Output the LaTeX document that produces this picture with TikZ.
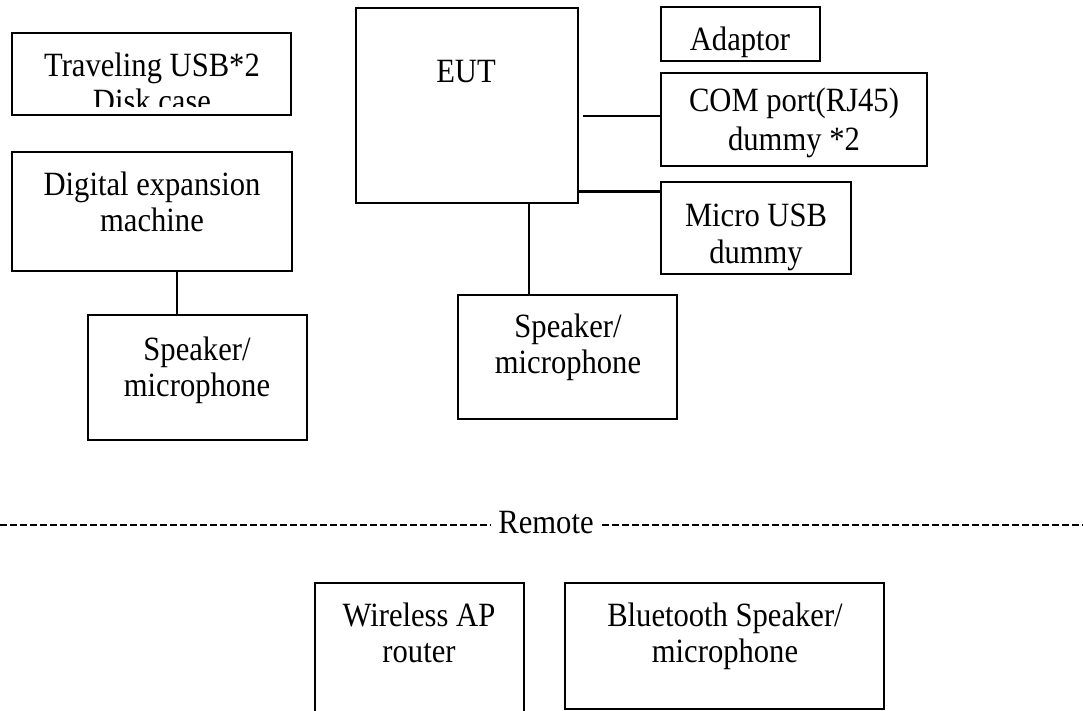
\documentclass[tikz,border=0pt]{standalone}
\usepackage{fontspec}
\setmainfont{Liberation Serif}[FakeStretch=0.9]
\usetikzlibrary{calc}
\begin{document}
\begin{tikzpicture}[x=1pt,y=1pt,
  blk/.style 2 args={draw, line width=2.8pt, rectangle, inner sep=0pt,
    minimum width=#1, minimum height=#2},
  % multi-line labels: the base anchor sits on the last line
  lbl/.style={inner sep=0pt, align=center, anchor=base,
    font=\fontsize{34}{36}\selectfont},
  wire/.style={line width=2.4pt},
  sep/.style={line width=2pt, dash pattern=on 7pt off 3pt}]
\useasboundingbox (0,0) rectangle (1083,-711);
\clip (0,0) rectangle (1083,-711);

% boxes of the local set-up
\node[blk={279}{82}]  (trav) at (151.5,-74) {};
\node[blk={222}{195}] (eut)  at (467,-105.5) {};
\node[blk={159}{54}]  (adap) at (740.5,-34) {};
\node[blk={266}{93}]  (com)  at (794,-119.5) {};
\node[blk={190}{92}]  (musb) at (756,-228) {};
\node[blk={280}{119}] (dig)  at (152,-211.5) {};
\node[blk={219}{125}] (spkl) at (197.5,-377.5) {};
\node[blk={219}{124}] (spkm) at (567.5,-357) {};

% boxes of the remote set-up
\node[blk={209}{134}] (wap) at (419.5,-650) {};
\node[blk={319}{126}] (bt)  at (724.5,-646) {};

% labels
\begin{scope}
  \clip (12,-33) rectangle (291,-107);
  \node[lbl] (travtxt) at (152,-113) {Traveling USB*2\\Disk case};
\end{scope}
\node[lbl] (euttxt)  at (466,-83)  {EUT};
\node[lbl] (adaptxt) at (740,-51)  {Adaptor};
\node[lbl, font=\fontsize{34}{39}\selectfont] (comtxt) at (794,-151) {COM port(RJ45)\\dummy *2};
\node[lbl] (musbtxt) at (756,-263) {Micro USB\\dummy};
\node[lbl] (digtxt)  at (152,-232) {Digital expansion\\machine};
\node[lbl] (spkltxt) at (197,-396) {Speaker/\\microphone};
\node[lbl] (spkmtxt) at (568,-373) {Speaker/\\microphone};
\node[lbl] (waptxt)  at (419,-662) {Wireless AP\\router};
\node[lbl] (bttxt)   at (725,-662) {Bluetooth Speaker/\\microphone};

% cables
\draw[wire] ([xshift=4pt,yshift=3.5pt]eut.east |- com.west) -- ([yshift=3.5pt]com.west);
\draw[wire] ([yshift=-11pt]eut.east |- musb.north) -- ([yshift=-11pt]musb.north west);
\draw[wire] ([xshift=-38.5pt]spkm.north |- eut.south) -- ([xshift=-38.5pt]spkm.north);
\draw[wire] ([xshift=25pt]dig.south) -- ([xshift=25pt]dig.south |- spkl.north);

% separator between local and remote equipment
\node[lbl] (remote) at (546,-533) {Remote};
\coordinate (sepl) at (0,-525);
\coordinate (sepr) at (1083,-525);
\draw[sep] (sepl) -- ([xshift=-8pt]sepl -| remote.west);
\draw[sep] ([xshift=8pt]sepr -| remote.east) -- (sepr);
\end{tikzpicture}
\end{document}
